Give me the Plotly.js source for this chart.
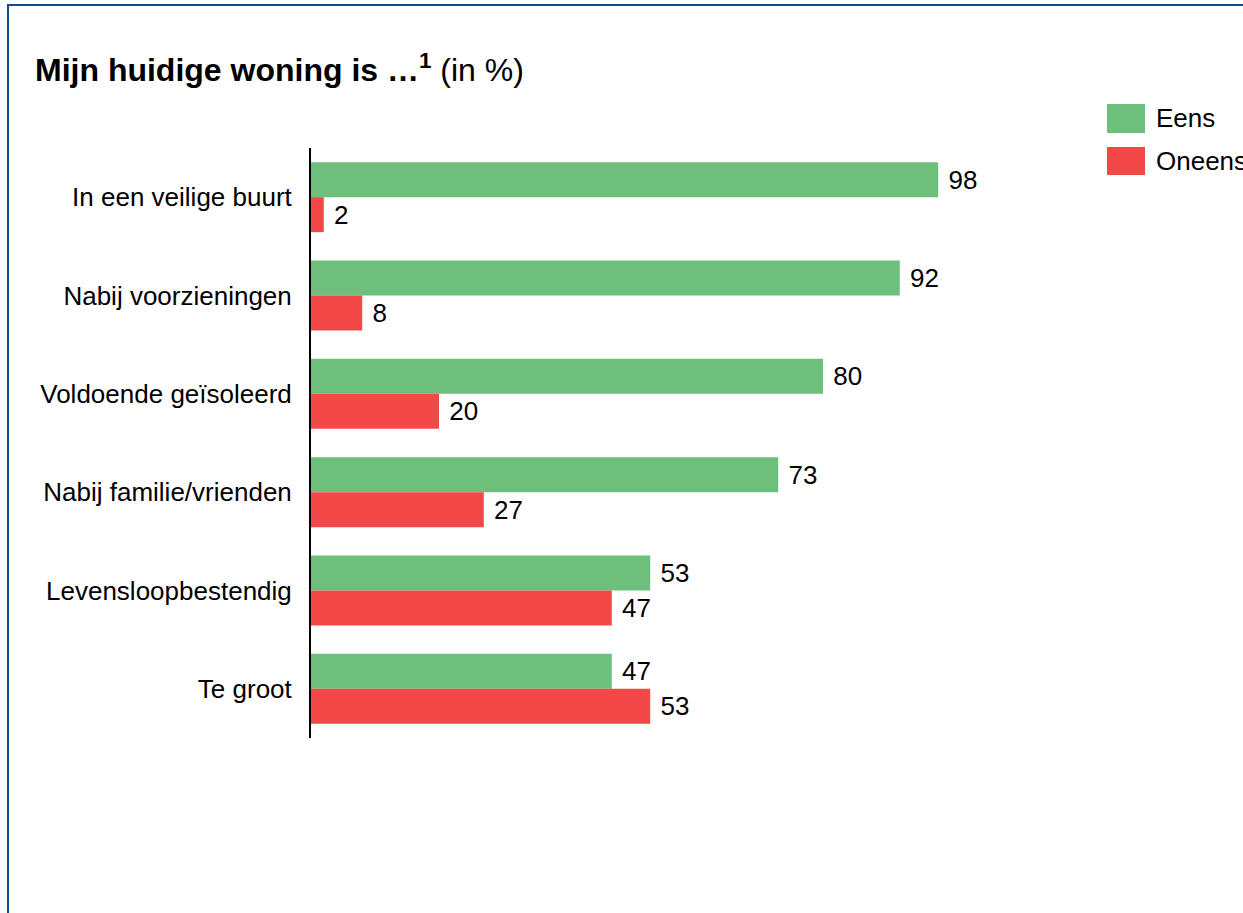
<!DOCTYPE html>
<html>
<head>
<meta charset="utf-8">
<script src="https://cdn.plot.ly/plotly-3.0.1.min.js"></script>
<style>
  html, body { margin: 0; padding: 0; background: #fff; }
  #wrap { position: relative; width: 1243px; height: 913px; }
  #chart { width: 1243px; height: 913px; }
  #frame { position: absolute; left: 7px; top: 4px; right: -10px; bottom: -10px;
           border-left: 2.5px solid #0b4f8c; border-top: 2.5px solid #0b4f8c; pointer-events: none; }
</style>
</head>
<body>
<div id="wrap">
  <div id="chart"></div>
  <div id="frame"></div>
</div>
<script>
const categories = ["In een veilige buurt", "Nabij voorzieningen", "Voldoende geïsoleerd",
                    "Nabij familie/vrienden", "Levensloopbestendig", "Te groot"];
const seriesNames = ["Eens", "Oneens"];
const eens = [98, 92, 80, 73, 53, 47];
const oneens = [2, 8, 20, 27, 47, 53];
const colors = ["#6dbf7b", "#f24848"];

const font = "Liberation Sans, Arial, Helvetica, sans-serif";
const W = 1243, H = 913;
const L = 311, R = 143, T = 148, B = 175;
const pw = W - L - R, ph = H - T - B;

function bar(vals, i) {
  return {
    type: "bar", orientation: "h", name: seriesNames[i],
    y: categories, x: vals,
    marker: { color: colors[i], line: { width: 0 } },
    text: vals.map(v => "\u00a0" + v), textposition: "outside",
    textfont: { family: font, size: 26, color: "#000" },
    cliponaxis: false, hoverinfo: "x+name"
  };
}

// legend drawn as shapes + annotations (large swatches like reference)
const px2x = x => (x - L) / pw;
const px2y = y => 1 - (y - T) / ph;
const sw = [[104, 133], [147, 175]];
const shapes = sw.map((s, i) => ({
  type: "rect", xref: "paper", yref: "paper",
  x0: px2x(1107), x1: px2x(1145), y0: px2y(s[1]), y1: px2y(s[0]),
  fillcolor: colors[i], line: { width: 0 }
}));
const annotations = sw.map((s, i) => ({
  xref: "paper", yref: "paper", x: px2x(1154), y: px2y((s[0] + s[1]) / 2),
  xanchor: "left", yanchor: "middle", text: seriesNames[i], showarrow: false,
  font: { family: font, size: 26, color: "#000" }
}));

const layout = {
  width: W, height: H,
  margin: { l: L, r: R, t: T, b: B, pad: 0 },
  paper_bgcolor: "#fff", plot_bgcolor: "#fff",
  barmode: "group", bargap: 0.288, bargroupgap: 0,
  showlegend: false,
  title: {
    text: "<b>Mijn huidige woning is …<sup>1</sup></b> (in %)",
    font: { family: font, size: 32, color: "#000" },
    xref: "container", yref: "container",
    x: 35 / W, xanchor: "left", y: 1 - 70 / H, yanchor: "middle"
  },
  xaxis: { range: [0, pw / 6.4], showgrid: false, zeroline: false, showline: false,
           showticklabels: false, ticks: "", fixedrange: true },
  yaxis: { autorange: "reversed", type: "category", showgrid: false, zeroline: false,
           showline: true, linecolor: "#000", linewidth: 2, ticks: "",
           ticklabelstandoff: 12,
           tickfont: { family: font, size: 26, color: "#000" } },
  shapes: shapes, annotations: annotations,
  font: { family: font }
};

Plotly.newPlot("chart", [bar(eens, 0), bar(oneens, 1)], layout, { displayModeBar: false, staticPlot: true });
</script>
</body>
</html>
